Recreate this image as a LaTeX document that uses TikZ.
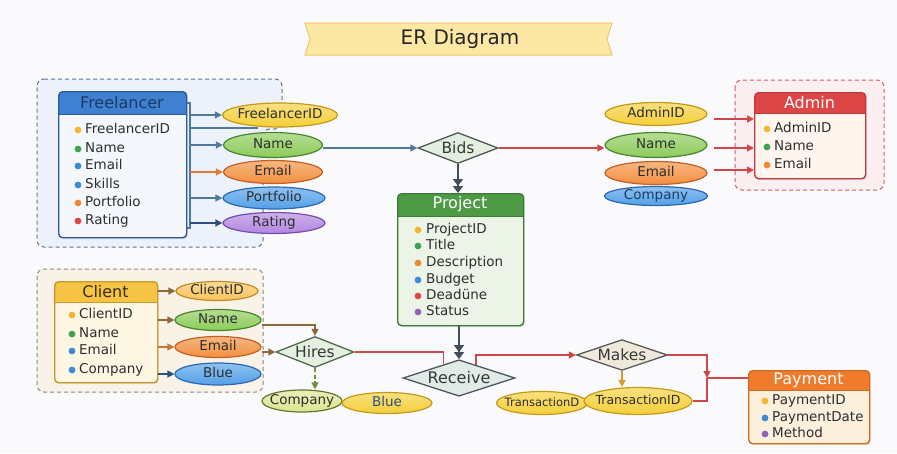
\documentclass[tikz,border=0pt]{standalone}
\usepackage{fontspec}
\setmainfont{DejaVu Sans}
\usetikzlibrary{arrows.meta,shapes.geometric,calc,shadows}
\newcommand{\nz}[1]{\makebox[0pt][c]{#1}}
\definecolor{bg}{HTML}{FAFAFC}
\definecolor{ttlf}{HTML}{FDE7A4}
\definecolor{ttlb}{HTML}{EFC76A}
% freelancer
\definecolor{fhdr}{HTML}{3F80D0}
\definecolor{fbody}{HTML}{F4F7FC}
\definecolor{fbord}{HTML}{2C5C9C}
\definecolor{fhtxt}{HTML}{1E3A64}
\definecolor{fgf}{HTML}{EDF2FA}
\definecolor{fgd}{HTML}{5F7590}
% project
\definecolor{phdr}{HTML}{4F9A45}
\definecolor{pbody}{HTML}{ECF4E8}
\definecolor{pbord}{HTML}{3D7A38}
% admin
\definecolor{ahdr}{HTML}{DD4646}
\definecolor{abody}{HTML}{FDF5EE}
\definecolor{abord}{HTML}{C0393C}
\definecolor{agf}{HTML}{FCEFF1}
\definecolor{agd}{HTML}{D45A66}
% client
\definecolor{chdr}{HTML}{F6C445}
\definecolor{cbody}{HTML}{FDF6E2}
\definecolor{cbord}{HTML}{C9992E}
\definecolor{chtxt}{HTML}{3A2A10}
\definecolor{cgf}{HTML}{F8F3E6}
\definecolor{cgd}{HTML}{8A8A80}
% payment
\definecolor{yhdr}{HTML}{F07B2C}
\definecolor{ybody}{HTML}{FCF0DC}
\definecolor{ybord}{HTML}{D06A22}
% attribute colours
\definecolor{yel}{HTML}{F4CF3A}\definecolor{yelb}{HTML}{C49A18}
\definecolor{grn}{HTML}{8CCB5A}\definecolor{grnb}{HTML}{46862C}
\definecolor{org}{HTML}{F2903E}\definecolor{orgb}{HTML}{C25F26}
\definecolor{blu}{HTML}{52A0E8}\definecolor{blub}{HTML}{2A68B0}
\definecolor{pur}{HTML}{B287E0}\definecolor{purb}{HTML}{764CAC}
\definecolor{cid}{HTML}{F8C45E}\definecolor{cidb}{HTML}{C28A26}
\definecolor{oli}{HTML}{DDE592}\definecolor{olib}{HTML}{67752F}
% dots
\definecolor{dy}{HTML}{F2B632}
\definecolor{dg}{HTML}{3FA34D}
\definecolor{do}{HTML}{EF8A30}
\definecolor{db}{HTML}{3E8AD6}
\definecolor{dr}{HTML}{E04848}
\definecolor{dp}{HTML}{8E63B8}
% lines
\definecolor{steel}{HTML}{4F7A9C}
\definecolor{navy}{HTML}{2F4F7F}
\definecolor{orl}{HTML}{E07B35}
\definecolor{redl}{HTML}{D0474B}
\definecolor{dark}{HTML}{3E4E60}
\definecolor{brn}{HTML}{8A6A3A}
\definecolor{olg}{HTML}{6F8F3A}
\definecolor{ocr}{HTML}{D89A2A}
% relationships
\definecolor{bidf}{HTML}{E2EFE0}\definecolor{bidb}{HTML}{4D5A52}
\definecolor{hirf}{HTML}{E4EFDF}\definecolor{hirb}{HTML}{4F6A4A}
\definecolor{rcvf}{HTML}{E1EBE6}\definecolor{rcvb}{HTML}{4A5760}
\definecolor{mkf}{HTML}{EFE9DC}\definecolor{mkb}{HTML}{5A5A5A}
\begin{document}
\begin{tikzpicture}[x=1pt,y=-1pt,
  font=\fontsize{13.5}{15}\selectfont,
  entity/.style n args={4}{draw=#3, line width=1.4pt, rounded corners=4pt,
    fill=#2, anchor=north west, inner sep=0pt,
    drop shadow={opacity=0.18, shadow xshift=1pt, shadow yshift=-1.5pt},
    path picture={\fill[#1, sharp corners] (path picture bounding box.north west)
        rectangle ([yshift=-#4]path picture bounding box.north east);
      \draw[#3, line width=1pt, sharp corners] ([yshift=-#4]path picture bounding box.north west)
        -- ([yshift=-#4]path picture bounding box.north east);}},
  hdrtxt/.style={font=\fontsize{16}{18}\selectfont, inner sep=0pt},
  row/.style={anchor=west, inner sep=0pt, text height=10pt, text depth=3pt, text=black!82},
  attr/.style 2 args={ellipse, draw=#2, line width=1.2pt, top color=#1!65!white,
    bottom color=#1, inner sep=0pt, text=black!82, font=\fontsize{13.5}{15}\selectfont,
    text height=9.5pt, text depth=2.5pt},
  rel/.style 2 args={diamond, draw=#2, line width=1.3pt, fill=#1, inner sep=0pt,
    aspect=2.6, text=black!78, font=\fontsize{15.5}{17}\selectfont},
  lw/.style={line width=1.4pt},
  arr/.style={-{Triangle[length=7pt,width=7pt]}, line width=1.4pt},
  dbl/.style={-{Triangle[length=7pt,width=10pt]Triangle[length=7pt,width=10pt]}, line width=1.6pt},
  grp/.style={dash pattern=on 4pt off 3pt, line width=1pt, rounded corners=7pt}
]
\fill[bg] (0,0) rectangle (897,453);
\useasboundingbox (0,0) rectangle (897,453);

% ---------- title ----------
\filldraw[fill=ttlf, draw=ttlb, line width=1pt] (305,23) -- (612,23) -- (607,39) -- (612,55)
  -- (305,55) -- (310,39) -- cycle;
\node[font=\fontsize{20}{22}\selectfont, text=black!85] (title) at (460,39) {ER Diagram};

% ---------- groups ----------
\filldraw[grp, draw=fgd, fill=fgf] (37,79) -- (282,79) -- (282,129) -- (263,129) -- (263,247) -- (37,247) -- cycle;
\filldraw[grp, draw=agd, fill=agf] (735,80) rectangle (884,190);
\filldraw[grp, draw=cgd, fill=cgf] (37,269) rectangle (263,392);

% ---------- Freelancer ----------
\draw[steel, lw] (186,103) -- (190,103) -- (190,228) -- (186,228);
\node[entity={fhdr}{fbody}{fbord}{23pt}, minimum width=128pt, minimum height=146pt] (fl) at (58,91) {};
\node[hdrtxt, text=fhtxt] (flt) at (122,102.5) {Freelancer};
\foreach \y/\c/\t [count=\i] in {130/dy/FreelancerID,149/dg/Name,166/db/Email,185/db/Skills,203/do/Portfolio,221/dr/Rating}{
  \fill[\c] (78,\y) circle (3.4pt);
  \node[row] (fl-\i) at (85,\y) {\t};
}
\coordinate (flb) at (190,0);
\coordinate (flx) at (258,128);

\node[attr={yel}{yelb}, minimum width=115pt, minimum height=24pt] (fid) at (280,115) {\nz{FreelancerID}};
\node[attr={grn}{grnb}, minimum width=99pt, minimum height=25pt] (fname) at (273,145) {\nz{Name}};
\node[attr={org}{orgb}, minimum width=99pt, minimum height=23pt] (femail) at (273,172) {\nz{Email}};
\node[attr={blu}{blub}, minimum width=102pt, minimum height=22pt] (fport) at (274,198) {\nz{Portfolio}};
\node[attr={pur}{purb}, minimum width=102pt, minimum height=21pt] (frat) at (274,223) {\nz{Rating}};

\draw[arr, steel] (flb |- fid.west) -- (fid.west);
\draw[steel, lw] (flb |- flx) -- (flx);
\draw[arr, steel] (flb |- fname.west) -- (fname.west);
\draw[arr, orl] (flb |- femail.west) -- (femail.west);
\draw[arr, steel] (flb |- fport.west) -- (fport.west);
\draw[arr, navy] (flb |- frat.west) -- (frat.west);

% ---------- Bids ----------
\node[rel={bidf}{bidb}, minimum width=80pt, minimum height=31pt] (bids) at (458,148) {Bids};
\draw[arr, steel] (fname.east |- bids.west) -- (bids.west);

% ---------- Admin ----------
\node[entity={ahdr}{abody}{abord}{21pt}, minimum width=111pt, minimum height=86pt] (ad) at (754,92) {};
\node[hdrtxt, text=white] (adt) at (809.5,102.5) {Admin};
\foreach \y/\c/\t [count=\i] in {129/dy/AdminID,147/dg/Name,165/do/Email}{
  \fill[\c] (767,\y) circle (3.4pt);
  \node[row] (ad-\i) at (774,\y) {\t};
}
\node[attr={yel}{yelb}, minimum width=102pt, minimum height=23pt] (aid) at (656,114) {\nz{AdminID}};
\node[attr={grn}{grnb}, minimum width=102pt, minimum height=25pt] (aname) at (656,145) {\nz{Name}};
\node[attr={org}{orgb}, minimum width=102pt, minimum height=23pt] (aemail) at (656,173) {\nz{Email}};
\node[attr={blu}{blub}, minimum width=103pt, minimum height=19pt, text=fhtxt] (acomp) at (656,196) {\nz{Company}};

\draw[arr, redl] (bids.east) -- (bids.east -| aname.west);
\coordinate (a1) at ([shift={(6,5)}]aid.east);
\coordinate (a2) at ([shift={(6,3)}]aname.east);
\coordinate (a3) at ([shift={(6,-3)}]aemail.east);
\draw[arr, redl] (a1) -- (a1 -| ad.west);
\draw[arr, redl] (a2) -- (a2 -| ad.west);
\draw[arr, redl] (a3) -- (a3 -| ad.west);

% ---------- Project ----------
\node[entity={phdr}{pbody}{pbord}{23pt}, minimum width=126pt, minimum height=132pt] (proj) at (397,193) {};
\node[hdrtxt, text=white] (projt) at (460,204.5) {Project};
\foreach \y/\c/\t [count=\i] in {230/dy/ProjectID,246/dg/Title,263/do/Description,280/db/Budget,296/dr/Deadüne,312/dp/Status}{
  \fill[\c] (418,\y) circle (3.4pt);
  \node[row] (pr-\i) at (426,\y) {\t};
}
\draw[dbl, dark] (bids.south) -- (proj.north -| bids.south);

% ---------- Receive ----------
\node[rel={rcvf}{rcvb}, minimum width=112pt, minimum height=36pt, font=\fontsize{16}{18}\selectfont] (rcv) at (459,378) {Receive};
\draw[dbl, dark] (proj.south -| rcv.north) -- (rcv.north);

% ---------- Client ----------
\node[entity={chdr}{cbody}{cbord}{21pt}, minimum width=103pt, minimum height=101pt] (cl) at (54,281) {};
\node[hdrtxt, text=chtxt] (clt) at (105.5,291.5) {Client};
\foreach \y/\c/\t [count=\i] in {315/dy/ClientID,334/dg/Name,351/db/Email,370/db/Company}{
  \fill[\c] (72,\y) circle (3.4pt);
  \node[row] (cl-\i) at (79,\y) {\t};
}
\node[attr={cid}{cidb}, minimum width=82pt, minimum height=19pt] (cid) at (217,291) {\nz{ClientID}};
\node[attr={grn}{grnb}, minimum width=86pt, minimum height=21pt] (cname) at (218,320) {\nz{Name}};
\node[attr={org}{orgb}, minimum width=86pt, minimum height=21pt] (cemail) at (218,347) {\nz{Email}};
\node[attr={blu}{blub}, minimum width=86pt, minimum height=22pt] (cblue) at (218,374) {\nz{Blue}};

\draw[arr, brn] (cl.east |- cid.west) -- (cid.west);
\draw[arr, brn] (cl.east |- cname.west) -- (cname.west);
\draw[arr, orl!70!brn] (cl.east |- cemail.west) -- (cemail.west);
\draw[arr, navy] (cl.east |- cblue.west) -- (cblue.west);

% ---------- Hires ----------
\node[rel={hirf}{hirb}, minimum width=78pt, minimum height=31pt] (hires) at (315,352) {Hires};
\draw[arr, brn] ([yshift=-5pt]cname.east) -| (hires.north);
\draw[arr, brn] (cemail.east |- hires.west) -- (hires.west);

\node[attr={oli}{olib}, minimum width=80pt, minimum height=22pt] (comp) at (302,401) {\nz{Company}};
\node[attr={yel}{yelb}, minimum width=90pt, minimum height=21pt, text=navy] (hblue) at (387,403) {\nz{Blue}};
\draw[arr, olg, dash pattern=on 4pt off 2.5pt] (hires.south) -- (hires.south |- comp.north);

\draw[redl, lw] (hires.east) -| ($(rcv.west)!0.73!(rcv.north)$);

% ---------- Makes ----------
\node[rel={mkf}{mkb}, minimum width=91pt, minimum height=27pt] (makes) at (622,355) {Makes};
\draw[arr, redl] ($(rcv.east)!0.7!(rcv.north)$) |- (makes.west);

\node[attr={yel}{yelb}, minimum width=91pt, minimum height=23pt, font=\fontsize{11.5}{13}\selectfont] (tdl) at (542,403) {\nz{TransactionD}};
\node[attr={yel}{yelb}, minimum width=108pt, minimum height=27pt, font=\fontsize{12.5}{14}\selectfont] (tid) at (638,401) {\nz{TransactionID}};
\draw[arr, ocr] (makes.south) -- (makes.south |- tid.north);

% ---------- Payment ----------
\node[entity={yhdr}{ybody}{ybord}{20pt}, minimum width=121pt, minimum height=73pt] (pay) at (748,370) {};
\node[hdrtxt, text=white] (payt) at (808.5,380) {Payment};
\foreach \y/\c/\t [count=\i] in {401/dy/PaymentID,418/db/PaymentDate,434/dp/Method}{
  \fill[\c] (765,\y) circle (3.4pt);
  \node[row] (pa-\i) at (772,\y) {\t};
}
\coordinate (pj) at (707,378);
\draw[arr, redl] (makes.east) -| (pj);
\draw[redl, lw] (pj) |- (tid.east);
\draw[redl, lw] (pj) -- (pay.west |- pj);
\end{tikzpicture}
\end{document}
